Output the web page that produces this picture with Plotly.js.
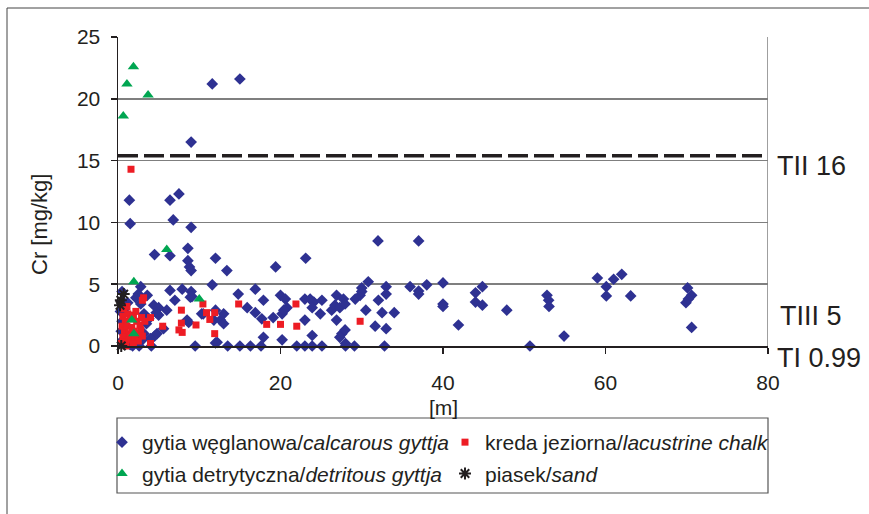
<!DOCTYPE html>
<html>
<head>
<meta charset="utf-8">
<script src="https://cdn.plot.ly/plotly-3.0.1.min.js"></script>
<style>
html,body{margin:0;padding:0;background:#fff;}
#chart{width:869px;height:514px;}
</style>
</head>
<body>
<div id="chart"></div>
<script>
// gytia węglanowa / calcarous gyttja
const calcX = [11.6,15.0,9.0,
1.4,1.5,6.4,7.5,6.8,9.0,8.6,4.5,6.4,8.6,8.8,9.0,12.0,13.4,19.4,23.1,32.0,37.0,
11.6,6.4,7.9,9.0,9.1,7.0,8.9,4.4,5.0,6.0,4.7,5.0,8.5,8.7,10.3,10.5,12.0,11.8,12.6,13.0,13.0,14.8,16.9,17.9,15.9,16.9,17.7,17.9,20.0,20.6,20.2,19.1,20.8,20.4,20.2,4.5,4.8,4.0,5.6,2.5,2.8,3.6,0.5,12.2,
4.1,9.5,12.0,13.5,15.0,16.3,17.6,22.0,23.0,23.9,25.1,28.0,29.1,32.8,50.7,
23.0,23.65,24.1,25.1,23.9,23.0,24.9,26.3,26.9,27.75,26.7,27.3,26.9,27.95,29.2,29.8,30.0,27.55,27.95,27.3,28.0,30.5,32.05,32.5,34.0,31.65,33.0,23.9,30.8,30.0,33.0,33.0,35.95,38.0,37.0,37.0,40.0,40.0,40.0,41.9,47.85,44.0,44.85,44.0,44.85,52.8,53.0,53.05,54.9,59.0,60.1,60.1,61.0,62.0,63.1,70.1,70.6,69.9,70.2,70.6,
0.3,0.5,0.4,0.6,1.0,1.5,2.0,2.5,3.0,3.2,3.5,3.2,2.8,1.2,2.2,0.8,3.8,1.8,2.6,0.6];
const calcY = [21.2,21.6,16.5,
11.8,9.9,11.8,12.3,10.2,9.6,7.9,7.4,7.3,6.9,6.4,6.1,7.1,6.1,6.4,7.1,8.5,8.5,
4.95,4.5,4.6,4.4,4.0,3.7,3.95,3.3,3.1,2.9,2.7,2.5,2.1,1.9,2.6,2.6,2.9,2.1,2.1,2.6,1.8,4.2,4.6,3.7,3.1,2.7,2.2,0.7,4.1,3.8,2.6,2.3,3.1,2.9,0.5,0.8,1.0,0.6,1.4,4.2,4.8,4.1,4.4,0.3,
0,0,0.25,0,0,0,0,0,0,0,0,0,0,0,0,
3.8,3.8,3.55,3.7,3.1,2.1,2.6,2.9,4.1,3.8,3.3,3.1,2.1,3.4,3.8,4.1,4.4,1.0,1.3,0.7,0.2,2.9,3.7,2.7,2.7,1.6,1.4,0.85,5.2,4.7,4.8,4.2,4.8,4.95,4.45,4.2,5.1,3.4,3.2,1.7,2.9,4.3,4.8,3.55,3.3,4.1,3.7,3.2,0.8,5.5,4.8,4.05,5.4,5.8,4.05,4.7,4.1,3.5,3.8,1.5,
2.8,2.0,1.2,0.5,0.2,0.1,0.2,0.3,0.5,1.0,1.8,2.6,3.4,3.5,3.9,3.0,2.2,0,0,3.6];

// kreda jeziorna / lacustrine chalk
const chalkX = [1.6,3.15,7.8,4.0,5.5,7.5,7.8,7.9,10.45,10.9,11.9,11.3,9.6,11.9,14.85,18.3,20.0,21.9,22.0,4.0,29.8,3.0,
0.6,0.9,1.2,1.5,1.9,2.3,2.7,0.5,0.8,1.1,1.4,1.7,2.0,2.4,2.8,3.0,0.6,0.9,1.3,1.6,2.1,2.5,1.0,1.9,0.7,1.1,2.2,3.3,0.4,2.9];
const chalkY = [14.3,3.9,2.9,2.3,1.6,1.3,1.85,1.1,3.4,2.7,2.7,2.15,1.7,1.0,3.4,1.75,1.75,3.4,1.6,0.2,2.0,3.7,
2.4,2.0,2.6,2.2,2.5,2.0,1.7,1.6,1.2,1.6,1.0,1.5,1.2,1.0,1.3,0.8,0.7,0.3,0.5,0.8,0.6,0.4,0.0,0.2,3.0,3.2,2.8,2.0,0.2,2.3];

// gytia detrytyczna / detritous gyttja
const detrX = [1.9,1.1,3.7,0.65,6.0,1.95,10.0,1.7,1.95];
const detrY = [22.6,21.2,20.3,18.6,7.8,5.2,3.8,2.1,1.0];

// piasek / sand
const sandX = [0.7,0.35,0.25,0.4];
const sandY = [4.2,3.7,3.3,0.0];

// threshold levels
const thresholdTII = 15.4;
const xTicks = [0,20,40,60,80];
const yTicks = [0,5,10,15,20,25];
const seriesNames = [
  'gytia węglanowa/<i>calcarous gyttja</i>',
  'kreda jeziorna/<i>lacustrine chalk</i>',
  'gytia detrytyczna/<i>detritous gyttja</i>',
  'piasek/<i>sand</i>'
];
const rightLabels = ['TII 16','TIII 5','TI 0.99'];

const FONT = 'Liberation Sans, Arial, Helvetica, sans-serif';

const traces = [
  {x: calcX, y: calcY, name: seriesNames[0], type:'scatter', mode:'markers', cliponaxis:false,
   legend:'legend', legendgroup:'a',
   marker:{symbol:'diamond', size:9, color:'#2e3192'}},
  {x: chalkX, y: chalkY, name: seriesNames[1], type:'scatter', mode:'markers', cliponaxis:false,
   legend:'legend2', legendgroup:'b',
   marker:{symbol:'square', size:7, color:'#ed1c24'}},
  {x: detrX, y: detrY, name: seriesNames[2], type:'scatter', mode:'markers', cliponaxis:false,
   legend:'legend', legendgroup:'c',
   marker:{symbol:'triangle-up', size:10, color:'#00a651'}},
  {x: sandX, y: sandY, name: seriesNames[3], type:'scatter', mode:'markers', cliponaxis:false,
   legend:'legend2', legendgroup:'d',
   marker:{symbol:'asterisk-open', size:10, color:'#231f20', line:{color:'#231f20', width:2}}}
];

// pixel helpers for paper coords (plot area: left 118, top 37, w 650, h 309)
const L=118, T=37, W=650, H=309;
const px = v => (v - L)/W;
const py = v => (T + H - v)/H;

const legendCommon = {
  orientation:'v', xanchor:'left', yanchor:'top', bgcolor:'rgba(0,0,0,0)',
  borderwidth:0, traceorder:'grouped', tracegroupgap:1, itemsizing:'trace',
  font:{family:FONT, size:21, color:'#231f20'}
};

const layout = {
  width:869, height:514,
  paper_bgcolor:'#fff', plot_bgcolor:'#fff',
  margin:{l:L, r:869-L-W, t:T, b:514-T-H, autoexpand:false},
  font:{family:FONT, color:'#231f20'},
  showlegend:true,
  xaxis:{range:[0,80], tickvals:xTicks, ticks:'outside', ticklen:6, tickwidth:1.5, tickcolor:'#231f20',
         showline:true, linecolor:'#231f20', linewidth:1.5, showgrid:false, zeroline:false,
         tickfont:{family:FONT, size:21, color:'#231f20'}, ticklabelstandoff:11, fixedrange:true},
  yaxis:{range:[0,25], tickvals:yTicks, ticks:'outside', ticklen:6, tickwidth:1.5, tickcolor:'#231f20',
         showline:true, linecolor:'#231f20', linewidth:1.5, showgrid:true, gridcolor:'#7f7f7f', gridwidth:1.5,
         zeroline:false, tickfont:{family:FONT, size:21, color:'#231f20'}, ticklabelstandoff:6, fixedrange:true},
  legend:Object.assign({x:px(102), y:py(422)}, legendCommon),
  legend2:Object.assign({x:px(445), y:py(422)}, legendCommon),
  shapes:[
    // threshold TII dashed line
    {type:'line', xref:'x', yref:'y', x0:0, x1:80, y0:thresholdTII, y1:thresholdTII,
     line:{color:'#231f20', width:3.5, dash:'20px,6px'}},
    // right border of plot area
    {type:'line', xref:'x', yref:'y', x0:80, x1:80, y0:0, y1:25, line:{color:'#7f7f7f', width:1.5}},
    // legend box
    {type:'rect', xref:'paper', yref:'paper', x0:px(117), x1:px(768), y0:py(418), y1:py(493),
     line:{color:'#555', width:1.2}, fillcolor:'rgba(0,0,0,0)'},
    // outer frame (left and top edges)
    {type:'line', xref:'paper', yref:'paper', x0:px(7), x1:px(7), y0:py(8), y1:py(530), line:{color:'#444', width:1}},
    {type:'line', xref:'paper', yref:'paper', x0:px(7), x1:px(900), y0:py(8), y1:py(8), line:{color:'#444', width:1}}
  ],
  annotations:[
    {text:'Cr [mg/kg]', xref:'paper', yref:'paper', x:px(39), y:py(225), textangle:-90,
     showarrow:false, xanchor:'center', yanchor:'middle', font:{family:FONT, size:22, color:'#231f20'}},
    {text:'[m]', xref:'paper', yref:'paper', x:px(443), y:py(407),
     showarrow:false, xanchor:'center', yanchor:'middle', font:{family:FONT, size:21, color:'#231f20'}},
    {text:rightLabels[0], xref:'paper', yref:'paper', x:px(775), y:py(166),
     showarrow:false, xanchor:'left', yanchor:'middle', font:{family:FONT, size:27, color:'#231f20'}},
    {text:rightLabels[1], xref:'paper', yref:'paper', x:px(778), y:py(316),
     showarrow:false, xanchor:'left', yanchor:'middle', font:{family:FONT, size:27, color:'#231f20'}},
    {text:rightLabels[2], xref:'paper', yref:'paper', x:px(775), y:py(358),
     showarrow:false, xanchor:'left', yanchor:'middle', font:{family:FONT, size:27, color:'#231f20'}}
  ]
};

Plotly.newPlot('chart', traces, layout, {displayModeBar:false, staticPlot:true});
</script>
</body>
</html>
